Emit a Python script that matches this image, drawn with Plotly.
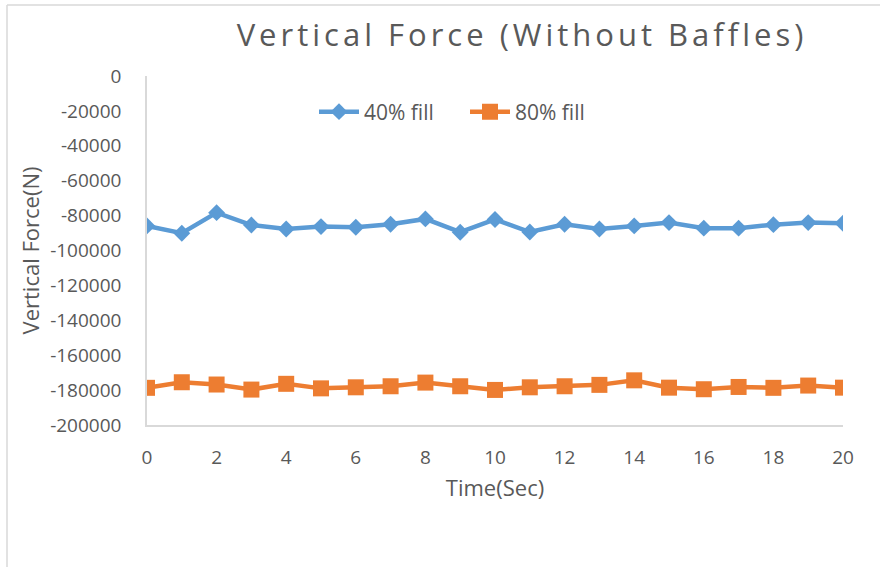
import plotly.graph_objects as go

# Time samples (s) and vertical force readings (N) for the two fill levels
time_sec = list(range(0, 21))
force_40 = [-85900, -90100, -78300, -85400, -87700, -86300, -86700, -85000,
            -81900, -89500, -82200, -89400, -85000, -87700, -85900, -84000,
            -87200, -87200, -85200, -84000, -84400]
force_80 = [-178700, -175500, -176800, -179700, -176400, -179000, -178400,
            -177800, -175700, -177800, -179900, -178400, -177800, -177000,
            -174400, -178600, -179500, -178200, -178700, -177400, -178600]
y_ticks = list(range(0, -200001, -20000))
x_ticks = list(range(0, 21, 2))

W, H = 880, 567
ML, MR, MT, MB = 147, 37, 76, 142
TEXT = "#595959"
AXIS = "#d9d9d9"
FONT = "Open Sans"

def px_x(px):
    return (px - ML) / (W - ML - MR)

def px_y(py):
    return (H - MB - py) / (H - MT - MB)

fig = go.Figure()
fig.add_trace(go.Scatter(
    x=time_sec, y=force_40, name="40% fill", mode="lines+markers",
    line=dict(color="#5B9BD5", width=4.5),
    marker=dict(symbol="diamond", size=13, color="#5B9BD5"),
))
fig.add_trace(go.Scatter(
    x=time_sec, y=force_80, name="80% fill", mode="lines+markers",
    line=dict(color="#ED7D31", width=4.5),
    marker=dict(symbol="square", size=16, color="#ED7D31"),
))

# light chart-area frame on the top and left edges
fig.add_shape(type="line", xref="paper", yref="paper",
              x0=px_x(7), x1=px_x(W + 5), y0=px_y(5), y1=px_y(5),
              line=dict(color=AXIS, width=1.5))
fig.add_shape(type="line", xref="paper", yref="paper",
              x0=px_x(7), x1=px_x(7), y0=px_y(5), y1=px_y(H + 5),
              line=dict(color=AXIS, width=1.5))

fig.update_layout(
    width=W, height=H,
    margin=dict(l=ML, r=MR, t=MT, b=MB, pad=0),
    paper_bgcolor="white", plot_bgcolor="white",
    font=dict(family=FONT, color=TEXT, size=19),
    title=dict(text='<span style="letter-spacing:4px">'
                    'Vertical Force (Without Baffles)</span>',
               font=dict(family=FONT, size=31, color=TEXT),
               xref="container", yref="container",
               x=522 / W, y=1 - 35 / H, xanchor="center", yanchor="middle"),
    showlegend=True,
    legend=dict(orientation="h", x=px_x(314), y=px_y(112),
                xanchor="left", yanchor="middle",
                font=dict(size=21, color=TEXT), bgcolor="rgba(0,0,0,0)",
                itemwidth=40, entrywidth=96, entrywidthmode="pixels"),
    xaxis=dict(range=[0, 20], tickvals=x_ticks, showgrid=False,
               zeroline=False, showline=True, linecolor=AXIS, linewidth=1.5,
               ticks="", ticklabelstandoff=14,
               tickfont=dict(size=19, color=TEXT),
               title=dict(text="Time(Sec)", font=dict(size=22, color=TEXT),
                          standoff=12)),
    yaxis=dict(range=[-200000, 0], tickvals=y_ticks,
               ticktext=[str(v) for v in y_ticks], showgrid=False,
               zeroline=False, showline=True, linecolor=AXIS, linewidth=1.5,
               ticks="", ticklabelstandoff=20,
               tickfont=dict(size=19, color=TEXT),
               title=dict(text="Vertical Force(N)",
                          font=dict(size=22, color=TEXT), standoff=4)),
)

fig.write_html("out.html")
